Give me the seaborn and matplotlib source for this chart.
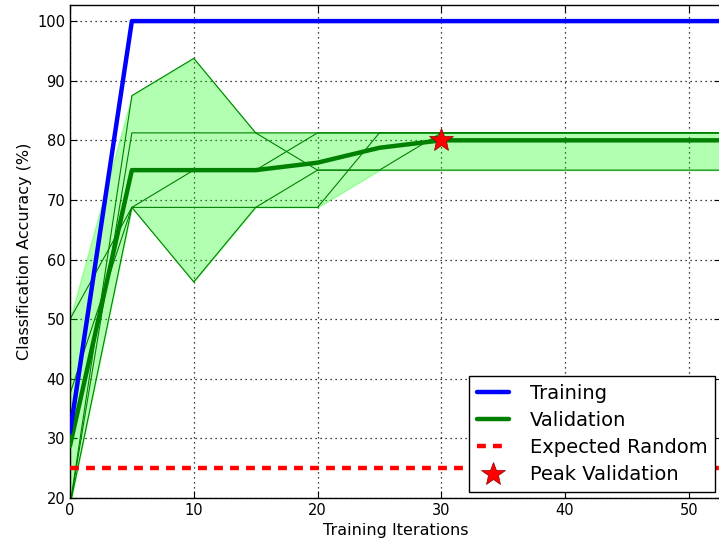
import pandas as pd
import seaborn as sns
import matplotlib.pyplot as plt

# values (5 cross-validation folds)
iterations = [0, 5, 10, 15, 20, 25, 30, 35, 40, 45, 50, 55]
val_fold_1 = [18.75, 87.5, 93.75, 81.25, 75.0, 75.0, 81.25, 81.25, 81.25, 81.25, 81.25, 81.25]
val_fold_2 = [18.75, 81.25, 81.25, 81.25, 81.25, 81.25, 81.25, 81.25, 81.25, 81.25, 81.25, 81.25]
val_fold_3 = [50.0, 68.75, 75.0, 75.0, 81.25, 81.25, 81.25, 81.25, 81.25, 81.25, 81.25, 81.25]
val_fold_4 = [37.5, 68.75, 68.75, 68.75, 68.75, 81.25, 81.25, 81.25, 81.25, 81.25, 81.25, 81.25]
val_fold_5 = [18.75, 68.75, 56.25, 68.75, 75.0, 75.0, 75.0, 75.0, 75.0, 75.0, 75.0, 75.0]
train_low = [29.0, 100, 100, 100, 100, 100, 100, 100, 100, 100, 100, 100]
train_mid = [31.0, 100, 100, 100, 100, 100, 100, 100, 100, 100, 100, 100]
train_high = [33.0, 100, 100, 100, 100, 100, 100, 100, 100, 100, 100, 100]
random_level = 25
peak_iter = 30
peak_acc = 80

val_folds = [val_fold_1, val_fold_2, val_fold_3, val_fold_4, val_fold_5]
val_df = pd.DataFrame({
    'iteration': iterations * len(val_folds),
    'accuracy': [v for f in val_folds for v in f],
    'fold': [i for i, f in enumerate(val_folds) for _ in f],
})
train_df = pd.DataFrame({
    'iteration': iterations * 3,
    'accuracy': train_low + train_mid + train_high,
})
val_rng = val_df.groupby('iteration')['accuracy'].agg(['min', 'max'])
train_rng = train_df.groupby('iteration')['accuracy'].agg(['min', 'max'])

sns.set_style('ticks')
plt.rcParams['font.family'] = ['DejaVu Sans']
plt.rcParams['text.color'] = 'black'
plt.rcParams['axes.labelcolor'] = 'black'
plt.rcParams['xtick.color'] = 'black'
plt.rcParams['ytick.color'] = 'black'

fig = plt.figure(figsize=(7.19, 5.44), dpi=100)
ax = fig.add_axes([70 / 719, 46 / 544, 651 / 719, 493 / 544])

# validation: min/max band, folds, mean
ax.fill_between(val_rng.index, val_rng['min'], val_rng['max'], facecolor='lime',
                alpha=0.3, edgecolor='lime', lw=1, zorder=1)
sns.lineplot(data=val_df, x='iteration', y='accuracy', units='fold', estimator=None,
             color='green', lw=0.8, ax=ax, legend=False, zorder=2)
sns.lineplot(data=val_df, x='iteration', y='accuracy', estimator='mean',
             errorbar=None, color='green', lw=3.2, label='Validation', ax=ax, zorder=3)

# training
ax.fill_between(train_rng.index, train_rng['min'], train_rng['max'], facecolor='blue',
                alpha=0.3, lw=0, zorder=1)
sns.lineplot(data=train_df, x='iteration', y='accuracy', estimator='median',
             errorbar=None, color='blue', lw=3.2, label='Training', ax=ax, zorder=4)

ax.axhline(random_level, color='red', lw=3.2, ls=(0, (2.0, 1.6)),
           label='Expected Random', zorder=5)
ax.plot([peak_iter], [peak_acc], marker='*', color='red', ms=18, ls='none',
        mec='darkred', mew=0.5, label='Peak Validation', zorder=6)

ax.set_xlim(0, 52.6)
ax.set_ylim(20, 102.7)
ax.set_xticks([0, 10, 20, 30, 40, 50])
ax.set_yticks([20, 30, 40, 50, 60, 70, 80, 90, 100])
ax.grid(True, color='black', ls=(0, (1, 3)), lw=0.9)
ax.tick_params(direction='in', top=True, right=True, length=5, labelsize=10.5, color='black')
for s in ax.spines.values():
    s.set_color('black')
    s.set_linewidth(1)
ax.set_xlabel('Training Iterations', fontsize=11.5)
ax.set_ylabel('Classification Accuracy (%)', fontsize=11.5)

handles, labels = ax.get_legend_handles_labels()
order = ['Training', 'Validation', 'Expected Random', 'Peak Validation']
hmap = dict(zip(labels, handles))
leg = ax.legend([hmap[l] for l in order], order, loc='lower right', fontsize=14,
                fancybox=False, framealpha=1, edgecolor='black', numpoints=1,
                labelspacing=0.42, handlelength=1.65, handletextpad=1.05,
                borderaxespad=0.3)
leg.get_frame().set_linewidth(1)

fig.savefig('out.png', dpi=100)
